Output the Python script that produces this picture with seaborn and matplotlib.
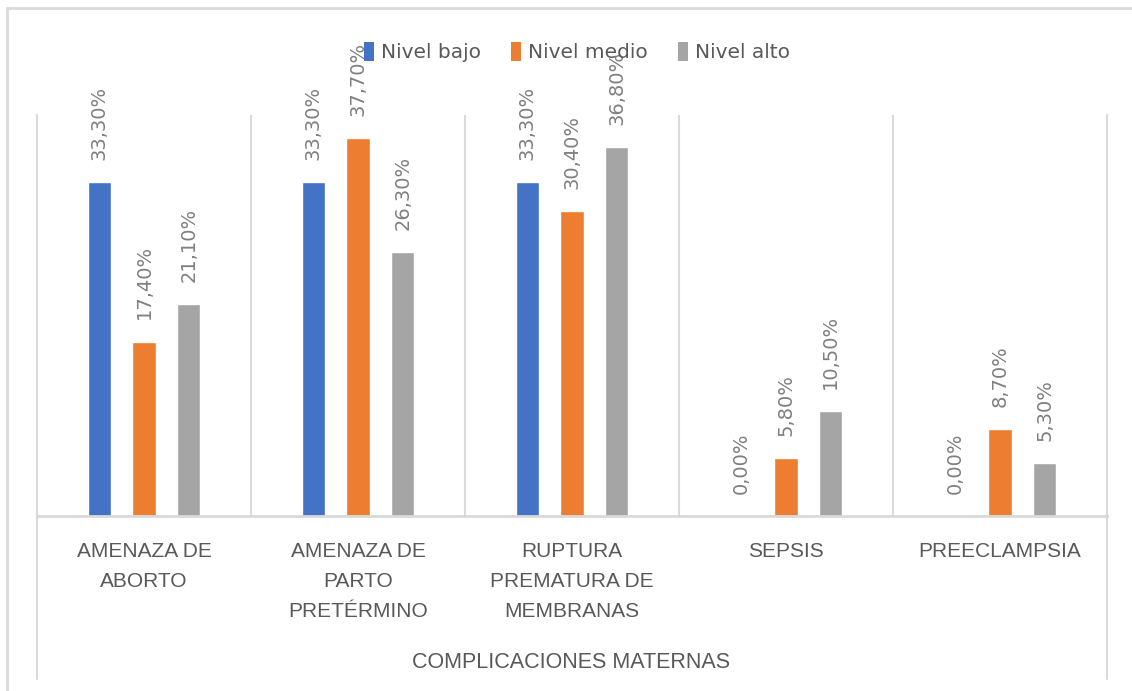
import matplotlib
matplotlib.use("Agg")
import matplotlib.pyplot as plt
from matplotlib.lines import Line2D
from matplotlib.patches import Patch
import seaborn as sns
import pandas as pd

categories = ["AMENAZA DE\nABORTO", "AMENAZA DE\nPARTO\nPRETÉRMINO",
              "RUPTURA\nPREMATURA DE\nMEMBRANAS", "SEPSIS", "PREECLAMPSIA"]
series_names = ["Nivel bajo", "Nivel medio", "Nivel alto"]
nivel_bajo = [33.3, 33.3, 33.3, 0.0, 0.0]
nivel_medio = [17.4, 37.7, 30.4, 5.8, 8.7]
nivel_alto = [21.1, 26.3, 36.8, 10.5, 5.3]
colors = ["#4472C4", "#ED7D31", "#A5A5A5"]
x_title = "COMPLICACIONES MATERNAS"

rows = []
for name, vals in zip(series_names, [nivel_bajo, nivel_medio, nivel_alto]):
    for c, v in zip(categories, vals):
        rows.append({"cat": c, "serie": name, "val": v})
df = pd.DataFrame(rows)

sns.set_theme(style="white")
plt.rcParams["font.family"] = ["DejaVu Sans"]

W, H = 1132, 691
fig = plt.figure(figsize=(W / 100, H / 100), dpi=100)
ax = fig.add_axes([37 / W, 1 - 516 / H, (1107 - 37) / W, (516 - 115) / H])

sns.barplot(data=df, x="cat", y="val", hue="serie", hue_order=series_names,
            order=categories, palette=colors, width=0.627, gap=0.48,
            dodge=True, ax=ax, legend=False, errorbar=None, saturation=1)

ax.set_xlim(-0.5, 4.5)
ax.set_ylim(0, 40)
ax.set_yticks([])
ax.set_ylabel("")
ax.set_xlabel("")
for s in ["top", "left", "right"]:
    ax.spines[s].set_visible(False)
ax.spines["bottom"].set_color("#d9d9d9")
ax.spines["bottom"].set_linewidth(2)

for xv in [0.5, 1.5, 2.5, 3.5]:
    ax.axvline(xv, color="#d9d9d9", lw=1.5, zorder=0)

for cont, vals in zip(ax.containers, [nivel_bajo, nivel_medio, nivel_alto]):
    labels = [f"{v:.2f}%".replace(".", ",") for v in vals]
    ax.bar_label(cont, labels=labels, rotation=90, padding=16,
                 color="#7f7f7f", fontsize=14, family="DejaVu Sans")

ax.tick_params(axis="x", length=0, pad=19)
ax.set_xticks(range(len(categories)))
ax.set_xticklabels(categories, color="#595959", fontsize=15,
                   family=["Liberation Sans", "DejaVu Sans"], linespacing=1.72,
                   va="top")

fig.text(571 / W, 1 - 662 / H, x_title, ha="center", va="center",
         color="#595959", fontsize=15.5, family=["Liberation Sans", "DejaVu Sans"])

# frame lines of the chart area
lc = "#d9d9d9"
fig.add_artist(Line2D([37 / W, 37 / W], [1 - 115 / H, 1 - 679 / H], color=lc, lw=1.5))
fig.add_artist(Line2D([1107 / W, 1107 / W], [1 - 115 / H, 1 - 679 / H], color=lc, lw=1.5))
fig.add_artist(Line2D([7 / W, 7 / W], [1 - 8 / H, 0], color=lc, lw=2))
fig.add_artist(Line2D([7 / W, 1.01], [1 - 8 / H, 1 - 8 / H], color=lc, lw=2))

handles = [Patch(facecolor=c, edgecolor="none") for c in colors]
fig.legend(handles, series_names, loc="center", bbox_to_anchor=(577 / W, 1 - 52 / H),
           ncol=3, frameon=False, handlelength=0.5, handleheight=1.1,
           handletextpad=0.35, columnspacing=1.5,
           prop={"family": ["DejaVu Sans"], "size": 14.5},
           labelcolor="#595959")

fig.savefig("out.png", dpi=100)
